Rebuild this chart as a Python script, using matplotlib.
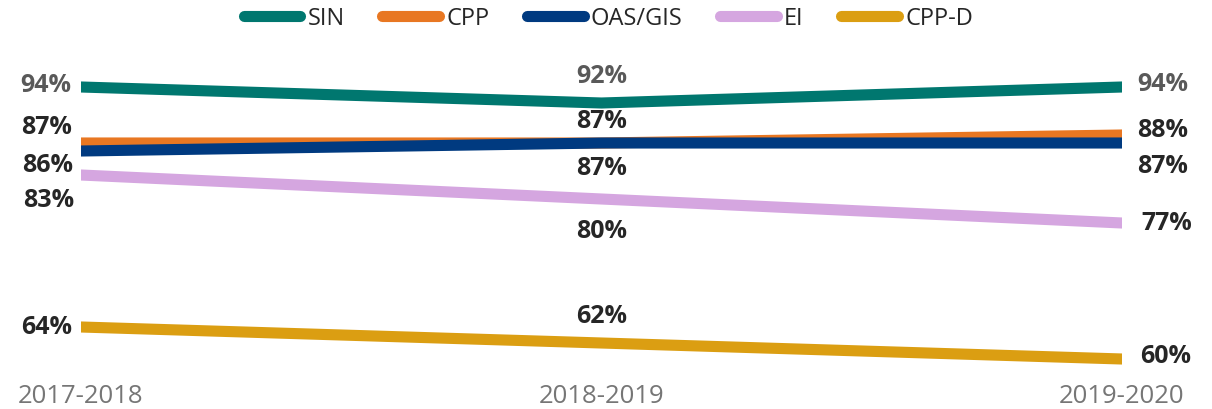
import matplotlib.pyplot as plt
import numpy as np

plt.rcParams['font.family'] = ['Open Sans', 'DejaVu Sans']

years = ['2017-2018', '2018-2019', '2019-2020']
series = ['SIN', 'CPP', 'OAS/GIS', 'EI', 'CPP-D']
sin = [94, 92, 94]
cpp = [87, 87, 88]
oas_gis = [86, 87, 87]
ei = [83, 80, 77]
cpp_d = [64, 62, 60]

values = [sin, cpp, oas_gis, ei, cpp_d]
colors = ['#00776F', '#E87722', '#003A80', '#D5A6E0', '#DB9E12']
label_colors = ['#595959', '#262626', '#262626', '#262626', '#262626']

# label offsets in pixels (left, middle, right) relative to each point
offsets = [
    [(-10, 2), (0, 27), (15, 3)],
    [(-9, 16), (0, 22), (15, 5)],
    [(-8, -14), (0, -25), (15, -23)],
    [(-7, -25), (0, -32), (19, 0)],
    [(-9, 0), (0, 27), (18, 3)],
]

fig = plt.figure(figsize=(12.12, 4.10), dpi=100)
ax = fig.add_axes([81 / 1212, 26 / 410, 1041 / 1212, 320 / 410])

x = np.arange(len(years))
for name, vals, col, lcol, offs in zip(series, values, colors, label_colors, offsets):
    ax.plot(x, vals, color=col, lw=8, solid_capstyle='round', label=name)
    for xi, v, (dx, dy) in zip(x, vals, offs):
        ha = 'right' if xi == 0 else ('left' if xi == len(x) - 1 else 'center')
        ax.annotate(f'{v}%', (xi, v), xytext=(dx, dy), textcoords='offset pixels',
                    ha=ha, va='center', fontsize=18, fontweight='bold', color=lcol)

ax.set_xlim(0, 2)
ax.set_ylim(57, 97)
ax.set_xticks(x)
ax.set_xticklabels(years, fontsize=18.5, color='#767676')
ax.tick_params(axis='x', length=0, pad=0)
ax.set_yticks([])
for s in ax.spines.values():
    s.set_visible(False)

leg = fig.legend(loc='center', bbox_to_anchor=(0.502, 1 - 19 / 410), ncol=5,
                 frameon=False, fontsize=17, handlelength=2.4, handletextpad=0.3,
                 columnspacing=1.6)
for t in leg.get_texts():
    t.set_color('#262626')

fig.savefig('out.png', dpi=100)
